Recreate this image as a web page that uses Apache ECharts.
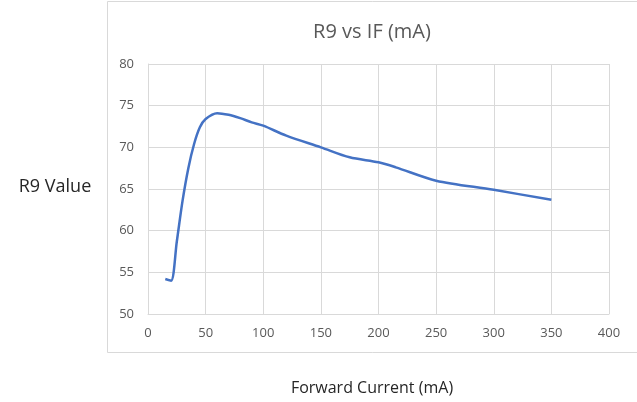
<!DOCTYPE html>
<html>
<head>
<meta charset="utf-8">
<script src="https://cdn.jsdelivr.net/npm/echarts@6/dist/echarts.min.js"></script>
<style>html,body{margin:0;padding:0;background:#fff}#c{width:637px;height:402px}</style>
</head>
<body>
<div id="c"></div>
<script>
const forwardCurrent = [15, 20, 25, 30, 35, 40, 45, 50, 60, 70, 80, 90, 100, 120, 150, 175, 200, 215, 250, 300, 350];
const r9Values = [54.2, 54.0, 58.7, 63.6, 67.5, 70.4, 72.4, 73.4, 74.1, 73.9, 73.5, 73.0, 72.6, 71.4, 70.0, 68.8, 68.2, 67.6, 66.0, 64.9, 63.7];
const xTicks = {min: 0, max: 400, interval: 50};
const yTicks = {min: 50, max: 80, interval: 5};
const titleText = 'R9 vs IF (mA)';
const xName = 'Forward Current (mA)';
const yName = 'R9 Value';

const chart = echarts.init(document.getElementById('c'), null, {renderer: 'canvas'});
const font = '"Open Sans", "Noto Sans", sans-serif';
chart.setOption({
  animation: false,
  backgroundColor: '#fff',
  graphic: [
    {type: 'rect', shape: {x: 107.5, y: 1.5, width: 540, height: 351}, style: {fill: 'none', stroke: '#d9d9d9', lineWidth: 1}, z: -1},
    {type: 'text', x: 372, y: 32, style: {text: titleText, font: '20px ' + font, fill: '#595959', textAlign: 'center', textVerticalAlign: 'middle'}},
    {type: 'text', x: 55, y: 187, style: {text: yName, font: '18px ' + font, fill: '#262626', textAlign: 'center', textVerticalAlign: 'middle'}},
    {type: 'text', x: 372, y: 388, style: {text: xName, font: '16px ' + font, fill: '#262626', textAlign: 'center', textVerticalAlign: 'middle'}}
  ],
  grid: {left: 148, right: 28, top: 64, bottom: 88, containLabel: false},
  xAxis: {
    type: 'value', min: xTicks.min, max: xTicks.max, interval: xTicks.interval,
    axisLine: {show: true, lineStyle: {color: '#d9d9d9'}},
    axisTick: {show: false},
    splitLine: {show: true, lineStyle: {color: '#d9d9d9'}},
    axisLabel: {margin: 13, color: '#595959', fontSize: 13, fontFamily: font}
  },
  yAxis: {
    type: 'value', min: yTicks.min, max: yTicks.max, interval: yTicks.interval,
    axisLine: {show: true, lineStyle: {color: '#d9d9d9'}},
    axisTick: {show: false},
    splitLine: {show: true, lineStyle: {color: '#d9d9d9'}},
    axisLabel: {margin: 14, color: '#595959', fontSize: 13, fontFamily: font}
  },
  series: [{
    type: 'line',
    data: forwardCurrent.map((x, i) => [x, r9Values[i]]),
    smooth: 0.3,
    showSymbol: false,
    lineStyle: {color: '#4472C4', width: 2.5},
    itemStyle: {color: '#4472C4'}
  }]
});
</script>
</body>
</html>
